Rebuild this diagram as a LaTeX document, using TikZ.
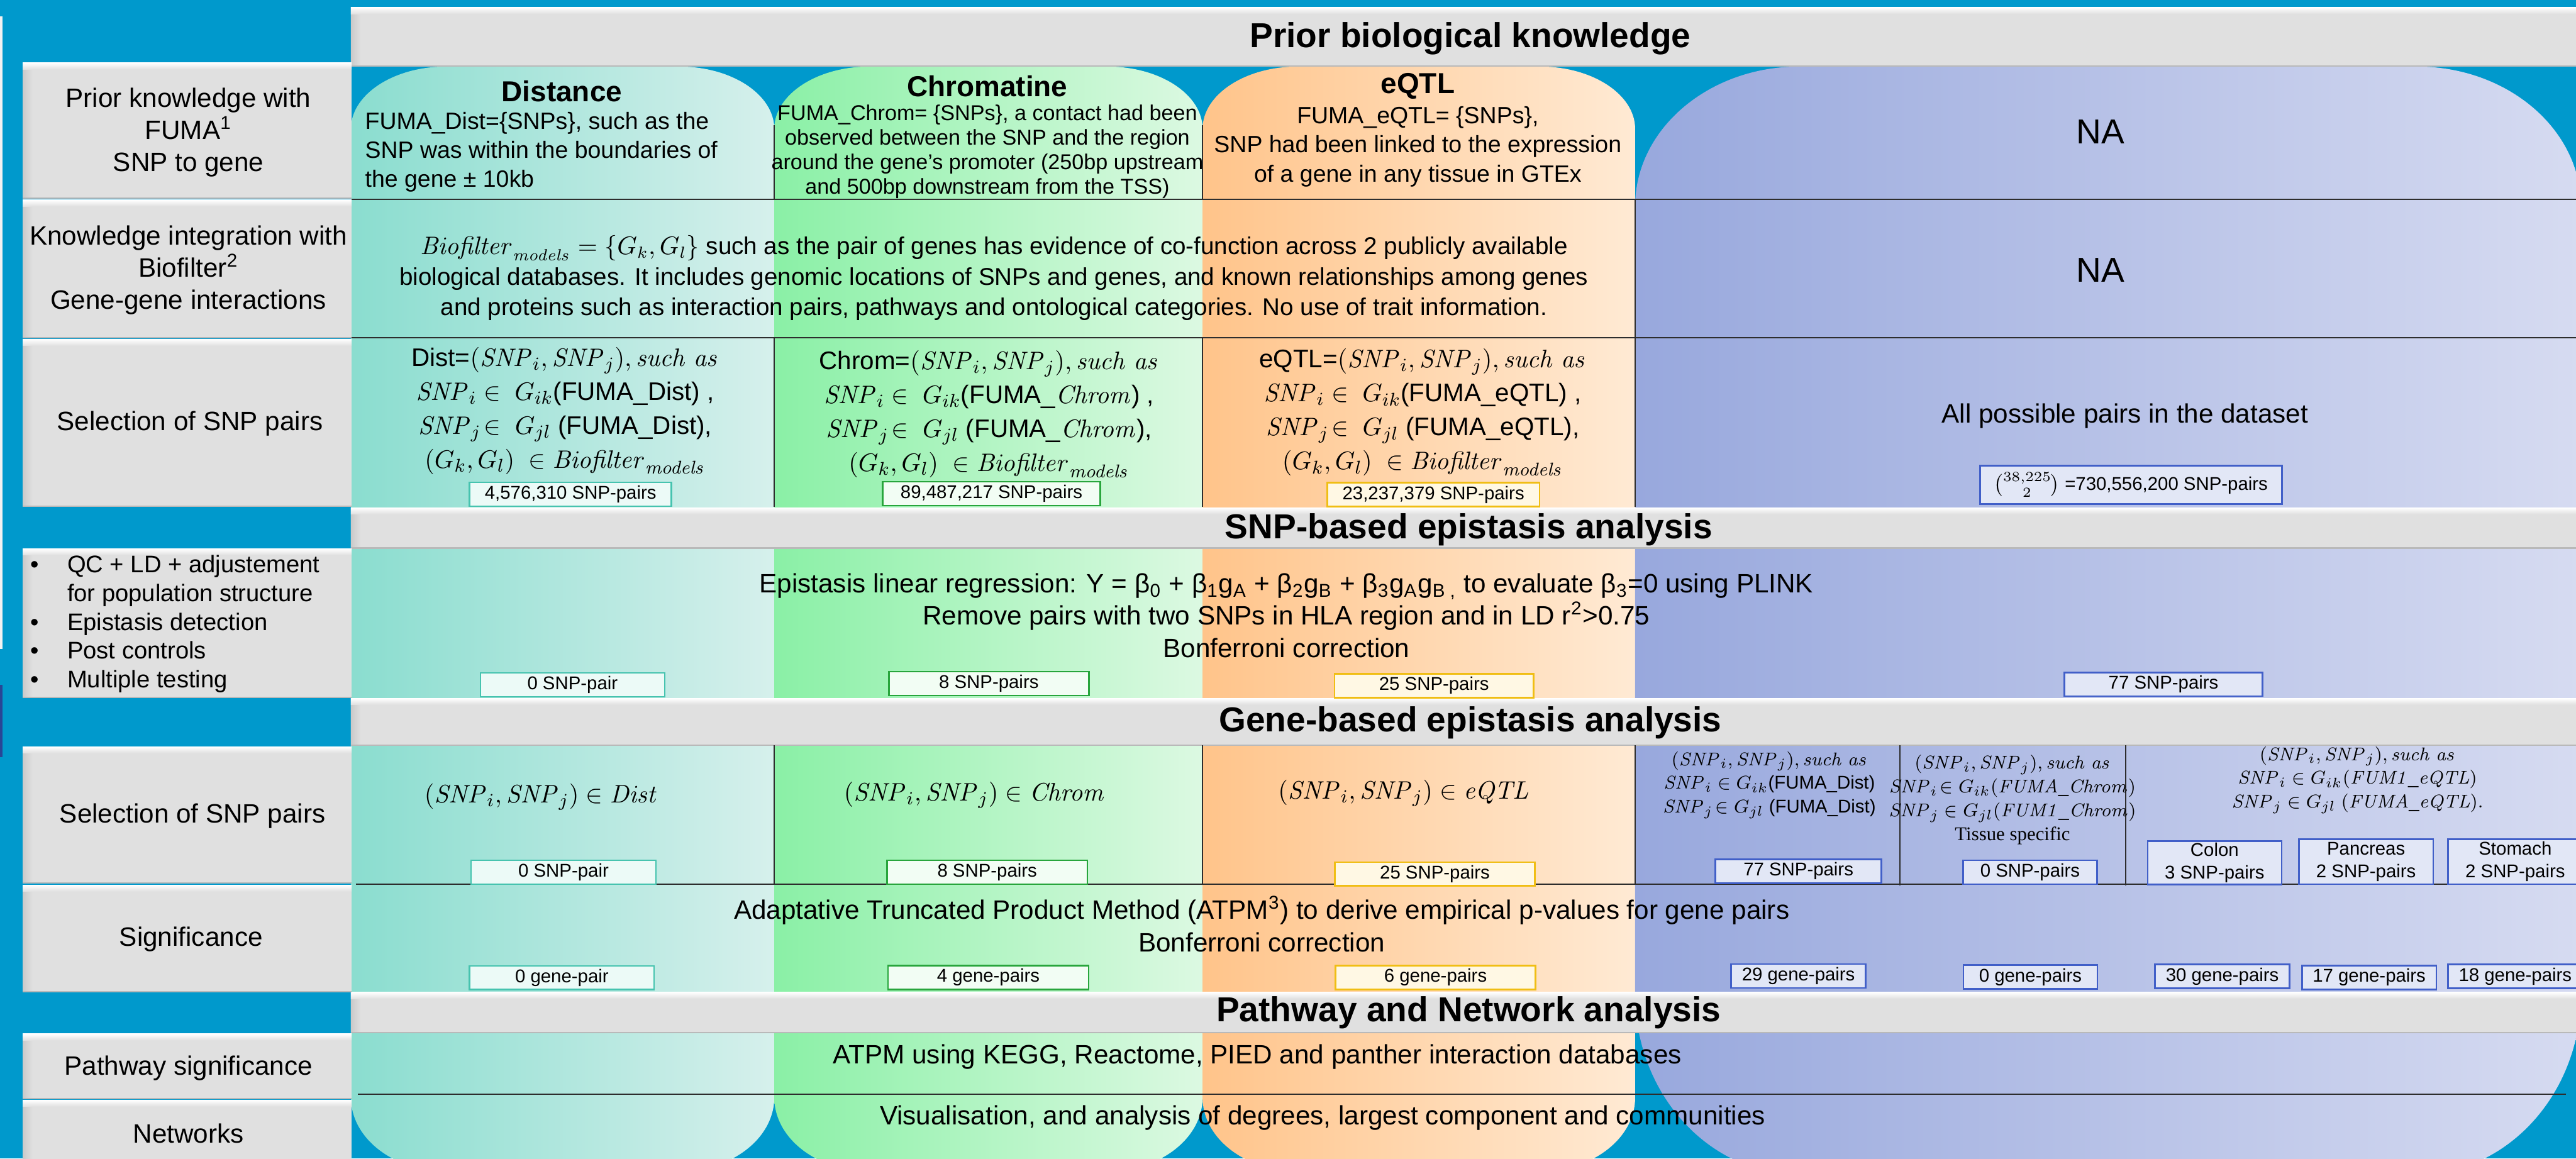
\documentclass[tikz,border=0pt]{standalone}
\usepackage{amsmath}
\usepackage[no-math]{fontspec}
\setmainfont{Liberation Sans}
\newfontfamily\serifnote{Liberation Serif}
\usetikzlibrary{positioning}

\definecolor{bgblue}{RGB}{0,153,204}
\definecolor{edgeblue}{RGB}{40,70,150}
\definecolor{bargray}{RGB}{224,224,224}
\definecolor{barline}{RGB}{185,185,185}
\definecolor{rule}{RGB}{45,45,45}
\definecolor{distA}{RGB}{138,221,207}
\definecolor{distB}{RGB}{214,240,236}
\definecolor{chromA}{RGB}{138,240,166}
\definecolor{chromB}{RGB}{220,249,226}
\definecolor{eqtlA}{RGB}{255,196,138}
\definecolor{eqtlB}{RGB}{255,234,212}
\definecolor{naA}{RGB}{152,168,221}
\definecolor{naB}{RGB}{214,219,241}
\definecolor{distline}{RGB}{70,195,175}
\definecolor{distfill}{RGB}{236,250,247}
\definecolor{chromline}{RGB}{40,165,60}
\definecolor{chromfill}{RGB}{242,253,244}
\definecolor{eqtlline}{RGB}{240,190,20}
\definecolor{eqtlfill}{RGB}{255,248,228}
\definecolor{naline}{RGB}{65,95,200}
\definecolor{nafill}{RGB}{226,231,246}

\newcommand{\fsz}[2]{\fontsize{#1}{#2}\selectfont}
\newcommand{\pxu}{0.025cm}
\newcommand{\snp}[1]{\mathit{SNP}_{#1}}
\newcommand{\bfmod}{\mathit{Biofilter}_{\mathit{models}}}

% column outline: left, right, top, bottom, top rx, top ry, bottom rx, bottom ry
\newcommand{\colpath}[8]{%
  (#1,#3+#6) .. controls (#1,#3+0.448*#6) and (#1+0.448*#5,#3) .. (#1+#5,#3)
  -- (#2-#5,#3) .. controls (#2-0.448*#5,#3) and (#2,#3+0.448*#6) .. (#2,#3+#6)
  -- (#2,#4-#8) .. controls (#2,#4-0.448*#8) and (#2-0.448*#7,#4) .. (#2-#7,#4)
  -- (#1+#7,#4) .. controls (#1+0.448*#7,#4) and (#1,#4-0.448*#8) .. (#1,#4-#8)
  -- cycle}
% gray bar with light top edge: x1, y1, x2, y2
\newcommand{\graybar}[4]{%
  \fill[bargray] (#1,#2) rectangle (#3,#4);
  \shade[left color=black!10!bargray, right color=bargray] (#1,#2) rectangle (#1+6,#4);
  \shade[top color=white, bottom color=bargray] (#1,#2) rectangle (#3,#2+4);
  \draw[barline, line width=0.6pt] (#1,#4) -- (#3,#4);}

\begin{document}
\begin{tikzpicture}[x=0.025cm, y=-0.025cm,
    rowlabel/.style={font=\fsz{11.5}{13.9}, align=center},
    headtitle/.style={font=\fsz{15}{18}\bfseries},
    coltitle/.style={font=\fsz{12.5}{15}\bfseries},
    coltext/.style={font=\fsz{10.2}{12.6}, align=center},
    midtext/.style={font=\fsz{11.5}{14}, align=center},
    mathtext/.style={font=\fsz{11}{14.7}, align=center},
    mathsmall/.style={font=\fsz{8}{10.3}, align=center, inner sep=0pt},
    countbox/.style={draw=#1line, fill=#1fill, line width=0.7pt, inner sep=0pt,
      minimum height=14.5*\pxu, font=\fsz{8}{9.8}, align=center},
    rulex/.style={rule, line width=0.5pt}]

  \useasboundingbox (0,0) rectangle (1568,705.3);
  \clip (0,0) rectangle (1568,705.3);
  % background
  \fill[bgblue] (0,0) rectangle (1568,705.3);
  \fill[white!90!gray] (0,10) rectangle (1.6,395);
  \fill[edgeblue] (0,417) rectangle (1.6,461);

  % columns
  \shade[left color=distA, right color=distB] \colpath{213.6}{471.3}{40.5}{713}{58}{38}{58}{45};
  \shade[left color=chromA, right color=chromB] \colpath{471.3}{732}{40.5}{713}{58}{38}{58}{45};
  \shade[left color=eqtlA, right color=eqtlB] \colpath{732}{995.3}{40.5}{713}{58}{38}{58}{45};
  \shade[left color=naA, right color=naB] \colpath{995.3}{1571}{40.5}{715}{100}{85}{100}{110};

  % section bars
  \graybar{213.6}{4.5}{1570}{40.3}
  \graybar{213.6}{309}{1570}{333.6}
  \graybar{213.6}{425}{1570}{453.7}
  \graybar{213.6}{604}{1570}{628.6}

  % row label boxes
  \graybar{13.8}{38.2}{214}{120.6}
  \graybar{13.8}{121.7}{214}{205.5}
  \graybar{13.8}{206.5}{214}{308.3}
  \graybar{13.8}{334}{214}{424.4}
  \graybar{13.8}{454.5}{214}{537.6}
  \graybar{13.8}{538.7}{214}{603.8}
  \graybar{13.8}{629.3}{214}{668.8}
  \graybar{13.8}{669.6}{214}{706}

  % table rules
  \draw[rulex] (214,121.3) -- (1568,121.3);
  \draw[rulex] (214,205.5) -- (1568,205.5);
  \draw[rulex] (471.3,76) -- (471.3,121.3);
  \draw[rulex] (732,76) -- (732,121.3);
  \draw[rulex] (995.3,121.3) -- (995.3,308.6);
  \draw[rulex] (471.3,205.5) -- (471.3,308.6);
  \draw[rulex] (732,205.5) -- (732,308.6);
  \draw[rulex] (216.6,538.3) -- (1568,538.3);
  \draw[rulex] (471.3,453.7) -- (471.3,538.3);
  \draw[rulex] (732,453.7) -- (732,538.3);
  \draw[rulex] (995.3,453.7) -- (995.3,538.3);
  \draw[rulex] (1156.5,453.7) -- (1156.5,539);
  \draw[rulex] (1294,453.7) -- (1294,539);
  \draw[rulex] (218,666.2) -- (1562,666.2);

  % section titles
  \node[headtitle] (tprior) at (895,23.4) {Prior biological knowledge};
  \node[headtitle] (tsnp) at (894,322.6) {SNP-based epistasis analysis};
  \node[headtitle] (tgene) at (895,440) {Gene-based epistasis analysis};
  \node[headtitle] (tpath) at (894,616.5) {Pathway and Network analysis};

  % row labels
  \node[rowlabel] (lfuma) at (114.7,80.5) {Prior knowledge with\\FUMA\textsuperscript{1}\\SNP to gene};
  \node[rowlabel] (lbiof) at (114.7,164.6) {Knowledge integration with\\Biofilter\textsuperscript{2}\\Gene-gene interactions};
  \node[rowlabel] (lsel1) at (115.6,258) {Selection of SNP pairs};
  \node[rowlabel, align=left, anchor=west, inner sep=0pt, font=\fsz{10.4}{12.4}] (lqc) at (18.3,379.8)
    {\makebox[0.56cm][l]{\textbullet}QC + LD + adjustement\\
     \makebox[0.56cm][l]{}for population structure\\
     \makebox[0.56cm][l]{\textbullet}Epistasis detection\\
     \makebox[0.56cm][l]{\textbullet}Post controls\\
     \makebox[0.56cm][l]{\textbullet}Multiple testing};
  \node[rowlabel] (lsel2) at (117.2,496.6) {Selection of SNP pairs};
  \node[rowlabel] (lsig) at (116.3,571.9) {Significance};
  \node[rowlabel] (lpath) at (114.7,650.1) {Pathway significance};
  \node[rowlabel] (lnet) at (114.7,690) {Networks};

  % prior knowledge with FUMA
  \node[coltitle] (hdist) at (342,55.4) {Distance};
  \node[coltitle] (hchrom) at (601,52.5) {Chromatine};
  \node[coltitle] (heqtl) at (863,52.5) {eQTL};
  \node[coltext, align=left, anchor=west, inner sep=0pt] (fdist) at (222,92.6)
    {FUMA\_Dist=\{SNPs\}, such as the\\SNP was within the boundaries of\\the gene ± 10kb};
  \node[coltext, font=\fsz{9.3}{10.6}] (fchrom) at (601,92.3)
    {FUMA\_Chrom= \{SNPs\}, a contact had been\\observed between the SNP and the region\\around the gene’s promoter (250bp upstream\\and 500bp downstream from the TSS)};
  \node[coltext] (feqtl) at (863,89.3)
    {FUMA\_eQTL= \{SNPs\},\\SNP had been linked to the expression\\of a gene in any tissue in GTEx};
  \node[font=\fsz{15}{18}] (na1) at (1278.6,80.4) {NA};

  % knowledge integration with Biofilter
  \node[coltext, font=\fsz{10.5}{13.1}] (biof) at (605,169.2)
    {$\bfmod = \{G_k, G_l\}$ such as the pair of genes has evidence of co-function across 2 publicly available\\
     biological databases. It includes genomic locations of SNPs and genes, and known relationships among genes\\
     and proteins such as interaction pairs, pathways and ontological categories. No use of trait information.};
  \node[font=\fsz{15}{18}] (na2) at (1278.6,164.4) {NA};

  % selection of SNP pairs
  \node[mathtext] (sdist) at (344,250)
    {Dist=$\left(\snp{i},\snp{j}\right)\!,\mathit{such\ as}$\\
     $\snp{i}\in\ G_{ik}$(FUMA\_Dist) ,\\
     $\snp{j}\!\in\ G_{jl}$ (FUMA\_Dist),\\
     $(G_k,G_l)\ \in \bfmod$};
  \node[mathtext] (schrom) at (602,252)
    {Chrom=$\left(\snp{i},\snp{j}\right)\!,\mathit{such\ as}$\\
     $\snp{i}\in\ G_{ik}$(FUMA\_$\mathit{Chrom}$) ,\\
     $\snp{j}\!\in\ G_{jl}$ (FUMA\_$\mathit{Chrom}$),\\
     $(G_k,G_l)\ \in \bfmod$};
  \node[mathtext] (seqtl) at (866,251)
    {eQTL=$\left(\snp{i},\snp{j}\right)\!,\mathit{such\ as}$\\
     $\snp{i}\in\ G_{ik}$(FUMA\_eQTL) ,\\
     $\snp{j}\!\in\ G_{jl}$ (FUMA\_eQTL),\\
     $(G_k,G_l)\ \in \bfmod$};
  \node[midtext] (sall) at (1293.5,253.4) {All possible pairs in the dataset};
  \node[countbox=dist, minimum width=122.9*\pxu] (cdist1) at (347.3,300.9) {4,576,310 SNP-pairs};
  \node[countbox=chrom, minimum width=132.6*\pxu] (cchrom1) at (603.5,300.5) {89,487,217 SNP-pairs};
  \node[countbox=eqtl, minimum width=129.2*\pxu] (ceqtl1) at (872.5,301.1) {23,237,379 SNP-pairs};
  \node[countbox=na, minimum width=183.8*\pxu, minimum height=23.4*\pxu] (cna1) at (1297.1,295.2)
    {$\binom{38{,}225}{2}$ =730,556,200 SNP-pairs};

  % SNP-based epistasis
  \node[midtext] (epi) at (783,374.7)
    {Epistasis linear regression: Y = β\textsubscript{0} + β\textsubscript{1}g\textsubscript{A} + β\textsubscript{2}g\textsubscript{B} + β\textsubscript{3}g\textsubscript{A}g\textsubscript{B ,} to evaluate β\textsubscript{3}=0 using PLINK\\
     Remove pairs with two SNPs in HLA region and in LD r\textsuperscript{2}>0.75\\
     Bonferroni correction};
  \node[countbox=dist, minimum width=112.2*\pxu] (cdist2) at (348.5,416.9) {0 SNP-pair};
  \node[countbox=chrom, minimum width=121.8*\pxu] (cchrom2) at (601.9,416.1) {8 SNP-pairs};
  \node[countbox=eqtl, minimum width=121.3*\pxu] (ceqtl2) at (872.9,417.4) {25 SNP-pairs};
  \node[countbox=na, minimum width=120.6*\pxu] (cna2) at (1316.9,416.6) {77 SNP-pairs};

  % gene-based selection
  \node[mathtext] (gdist) at (329.4,485) {$\left(\snp{i},\snp{j}\right)\in\mathit{Dist}$};
  \node[mathtext] (gchrom) at (593.2,483.8) {$\left(\snp{i},\snp{j}\right)\in\mathit{Chrom}$};
  \node[mathtext] (geqtl) at (854.2,483) {$\left(\snp{i},\snp{j}\right)\in\mathit{eQTL}$};
  \node[mathsmall] (gna1) at (1077,478)
    {$\left(\snp{i},\snp{j}\right)\!,\mathit{such\ as}$\\
     $\snp{i}\in G_{ik}$(FUMA\_Dist)\\
     $\snp{j}\!\in G_{jl}$ (FUMA\_Dist)};
  \node[mathsmall] (gna2) at (1225,486.9)
    {$\left(\snp{i},\snp{j}\right)\!,\mathit{such\ as}$\\
     $\snp{i}\!\in G_{ik}(\mathit{FUMA\_Chrom})$\\
     $\snp{j}\in G_{jl}(\mathit{FUM1\_Chrom})$\\
     {\serifnote\fsz{8.4}{10.3}Tissue specific}};
  \node[mathsmall] (gna3) at (1435,474.9)
    {$\left(\snp{i},\snp{j}\right)\!,\mathit{such\ as}$\\
     $\snp{i}\in G_{ik}(\mathit{FUM1\_eQTL})$\\
     $\snp{j}\in G_{jl}\ (\mathit{FUMA\_eQTL}).$};
  \node[countbox=dist, minimum width=112.5*\pxu] (cdist3) at (343,530.9) {0 SNP-pair};
  \node[countbox=chrom, minimum width=121.8*\pxu] (cchrom3) at (600.9,531) {8 SNP-pairs};
  \node[countbox=eqtl, minimum width=121.7*\pxu] (ceqtl3) at (873.4,532) {25 SNP-pairs};
  \node[countbox=na, minimum width=101*\pxu] (cna3) at (1094.7,530.3) {77 SNP-pairs};
  \node[countbox=na, minimum width=81.4*\pxu] (cna4) at (1235.7,530.9) {0 SNP-pairs};
  \node[countbox=na, minimum width=81.5*\pxu, minimum height=26.5*\pxu] (ccolon) at (1348,525.2) {Colon\\3 SNP-pairs};
  \node[countbox=na, minimum width=81.8*\pxu, minimum height=27.4*\pxu] (cpancreas) at (1440.2,524.5) {Pancreas\\2 SNP-pairs};
  \node[countbox=na, minimum width=82*\pxu, minimum height=27.4*\pxu] (cstomach) at (1531,524.5) {Stomach\\2 SNP-pairs};

  % significance
  \node[midtext] (atpm) at (768,562.5)
    {Adaptative Truncated Product Method (ATPM\textsuperscript{3}) to derive empirical p-values for gene pairs\\
     Bonferroni correction};
  \node[countbox=dist, minimum width=112.4*\pxu] (cdist4) at (342,595.2) {0 gene-pair};
  \node[countbox=chrom, minimum width=122.1*\pxu] (cchrom4) at (601.6,595) {4 gene-pairs};
  \node[countbox=eqtl, minimum width=121.6*\pxu] (ceqtl4) at (873.8,595) {6 gene-pairs};
  \node[countbox=na, minimum width=81.9*\pxu] (cna5) at (1094.7,594.1) {29 gene-pairs};
  \node[countbox=na, minimum width=81.7*\pxu] (cna6) at (1235.9,594.7) {0 gene-pairs};
  \node[countbox=na, minimum width=81.8*\pxu] (cna7) at (1352.7,594.3) {30 gene-pairs};
  \node[countbox=na, minimum width=81.8*\pxu] (cna8) at (1442.1,595) {17 gene-pairs};
  \node[countbox=na, minimum width=82*\pxu] (cna9) at (1531,594.3) {18 gene-pairs};

  % pathway and network
  \node[midtext] (ppath) at (765.3,643.3) {ATPM using KEGG, Reactome, PIED and panther interaction databases};
  \node[midtext] (pnet) at (805.1,680.3) {Visualisation, and analysis of degrees, largest component and communities};

\end{tikzpicture}
\end{document}
